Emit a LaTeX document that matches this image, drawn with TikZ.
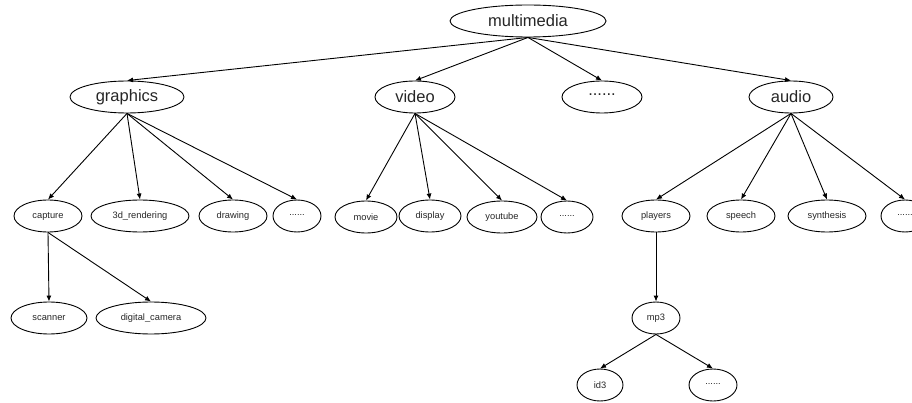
\documentclass[tikz,border=0pt]{standalone}
\usepackage{fontspec}
\setmainfont{Liberation Sans}
\usetikzlibrary{shapes.geometric,arrows.meta}
\begin{document}
\begin{tikzpicture}[x=1pt,y=-1pt,
  el/.style={draw,ellipse,line width=0.9pt,inner sep=0pt,text=black!85},
  big/.style={el,minimum height=32pt,font=\fontsize{16.5}{18}\selectfont},
  small/.style={el,minimum height=32pt,font=\fontsize{9.3}{11}\selectfont},
  edge/.style={line width=0.9pt,-{Latex[length=6pt,width=5pt]}}]
\useasboundingbox (0,0) rectangle (912,403);
\newcommand{\dotsx}{\raisebox{0.25em}{......}}
% level 1
\node[big,minimum width=156pt] (mm) at (528,21) {multimedia};
% level 2
\node[big,minimum width=114pt] (gr) at (127,97) {graphics};
\node[big,minimum width=80pt] (vi) at (415,97) {video};
\node[big,minimum width=80pt] (d1) at (602,97) {\dotsx};
\node[big,minimum width=84pt] (au) at (791,97) {audio};
% level 3
\node[small,minimum width=68pt] (ca) at (48,216) {capture};
\node[small,minimum width=98pt] (r3) at (140,216) {3d\_rendering};
\node[small,minimum width=68pt] (dr) at (233,216) {drawing};
\node[small,minimum width=48pt] (d2) at (297,216) {\dotsx};
\node[small,minimum width=62pt] (mo) at (366,217) {movie};
\node[small,minimum width=62pt] (di) at (430,216) {display};
\node[small,minimum width=70pt] (yo) at (502,217) {youtube};
\node[small,minimum width=52pt] (d3) at (567,217) {\dotsx};
\node[small,minimum width=68pt] (pl) at (656,216) {players};
\node[small,minimum width=68pt] (sp) at (741,216) {speech};
\node[small,minimum width=78pt] (sy) at (827,216) {synthesis};
\node[small,minimum width=48pt] (d4) at (905,216) {\dotsx};
% level 4
\node[small,minimum width=76pt] (sc) at (49,318) {scanner};
\node[small,minimum width=110pt] (dc) at (151,318) {digital\_camera};
\node[small,minimum width=48pt] (m3) at (656,318) {mp3};
% level 5
\node[small,minimum width=46pt] (id) at (600,385) {id3};
\node[small,minimum width=48pt] (d5) at (713,385) {\dotsx};
% edges
\foreach \t in {gr,vi,d1,au} \draw[edge] (mm.south) -- (\t.north);
\foreach \t in {ca,r3,dr,d2} \draw[edge] (gr.south) -- (\t.north);
\foreach \t in {mo,di,yo,d3} \draw[edge] (vi.south) -- (\t.north);
\foreach \t in {pl,sp,sy,d4} \draw[edge] (au.south) -- (\t.north);
\foreach \t in {sc,dc} \draw[edge] (ca.south) -- (\t.north);
\draw[edge] (pl.south) -- (m3.north);
\foreach \t in {id,d5} \draw[edge] (m3.south) -- (\t.north);
\end{tikzpicture}
\end{document}
